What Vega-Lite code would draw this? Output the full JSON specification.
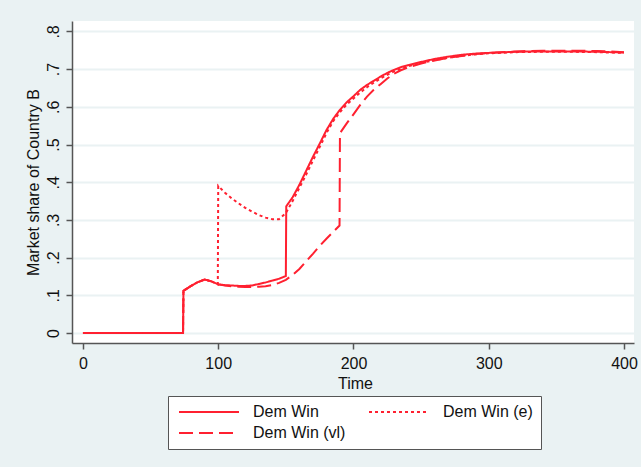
{
  "$schema": "https://vega.github.io/schema/vega-lite/v6.json",
  "width": 562,
  "height": 322,
  "autosize": {"type": "none"},
  "padding": {"left": 72, "top": 21, "right": 7, "bottom": 124},
  "background": "#EAF2F3",
  "config": {"font": "Liberation Sans", "view": {"fill": "white", "stroke": null}},
  "data": {"values": [
    {"t":0,"v":0,"s":"Dem Win"},{"t":74,"v":0,"s":"Dem Win"},{"t":74.3,"v":0.112,"s":"Dem Win"},{"t":80,"v":0.125,"s":"Dem Win"},{"t":85,"v":0.135,"s":"Dem Win"},{"t":90,"v":0.142,"s":"Dem Win"},{"t":95,"v":0.137,"s":"Dem Win"},{"t":100,"v":0.129,"s":"Dem Win"},{"t":105,"v":0.127,"s":"Dem Win"},{"t":110,"v":0.126,"s":"Dem Win"},{"t":115,"v":0.125,"s":"Dem Win"},{"t":120,"v":0.125,"s":"Dem Win"},{"t":125,"v":0.126,"s":"Dem Win"},{"t":130,"v":0.13,"s":"Dem Win"},{"t":135,"v":0.134,"s":"Dem Win"},{"t":140,"v":0.139,"s":"Dem Win"},{"t":145,"v":0.144,"s":"Dem Win"},{"t":150,"v":0.151,"s":"Dem Win"},{"t":150.3,"v":0.336,"s":"Dem Win"},{"t":155,"v":0.36,"s":"Dem Win"},{"t":160,"v":0.393,"s":"Dem Win"},{"t":165,"v":0.43,"s":"Dem Win"},{"t":170,"v":0.467,"s":"Dem Win"},{"t":175,"v":0.502,"s":"Dem Win"},{"t":180,"v":0.538,"s":"Dem Win"},{"t":185,"v":0.568,"s":"Dem Win"},{"t":190,"v":0.592,"s":"Dem Win"},{"t":195,"v":0.612,"s":"Dem Win"},{"t":200,"v":0.628,"s":"Dem Win"},{"t":205,"v":0.645,"s":"Dem Win"},{"t":210,"v":0.658,"s":"Dem Win"},{"t":215,"v":0.669,"s":"Dem Win"},{"t":220,"v":0.68,"s":"Dem Win"},{"t":225,"v":0.69,"s":"Dem Win"},{"t":230,"v":0.698,"s":"Dem Win"},{"t":235,"v":0.705,"s":"Dem Win"},{"t":240,"v":0.71,"s":"Dem Win"},{"t":250,"v":0.719,"s":"Dem Win"},{"t":260,"v":0.727,"s":"Dem Win"},{"t":270,"v":0.733,"s":"Dem Win"},{"t":280,"v":0.738,"s":"Dem Win"},{"t":290,"v":0.741,"s":"Dem Win"},{"t":300,"v":0.743,"s":"Dem Win"},{"t":320,"v":0.746,"s":"Dem Win"},{"t":340,"v":0.747,"s":"Dem Win"},{"t":360,"v":0.747,"s":"Dem Win"},{"t":380,"v":0.746,"s":"Dem Win"},{"t":400,"v":0.744,"s":"Dem Win"},
    {"t":0,"v":0,"s":"Dem Win (e)"},{"t":74,"v":0,"s":"Dem Win (e)"},{"t":74.3,"v":0.112,"s":"Dem Win (e)"},{"t":80,"v":0.125,"s":"Dem Win (e)"},{"t":85,"v":0.135,"s":"Dem Win (e)"},{"t":90,"v":0.142,"s":"Dem Win (e)"},{"t":95,"v":0.137,"s":"Dem Win (e)"},{"t":99.7,"v":0.129,"s":"Dem Win (e)"},{"t":100,"v":0.39,"s":"Dem Win (e)"},{"t":105,"v":0.372,"s":"Dem Win (e)"},{"t":110,"v":0.357,"s":"Dem Win (e)"},{"t":115,"v":0.344,"s":"Dem Win (e)"},{"t":120,"v":0.332,"s":"Dem Win (e)"},{"t":125,"v":0.322,"s":"Dem Win (e)"},{"t":130,"v":0.313,"s":"Dem Win (e)"},{"t":135,"v":0.306,"s":"Dem Win (e)"},{"t":140,"v":0.302,"s":"Dem Win (e)"},{"t":145,"v":0.302,"s":"Dem Win (e)"},{"t":150,"v":0.318,"s":"Dem Win (e)"},{"t":155,"v":0.35,"s":"Dem Win (e)"},{"t":160,"v":0.385,"s":"Dem Win (e)"},{"t":165,"v":0.42,"s":"Dem Win (e)"},{"t":170,"v":0.457,"s":"Dem Win (e)"},{"t":175,"v":0.493,"s":"Dem Win (e)"},{"t":180,"v":0.53,"s":"Dem Win (e)"},{"t":185,"v":0.562,"s":"Dem Win (e)"},{"t":190,"v":0.586,"s":"Dem Win (e)"},{"t":195,"v":0.606,"s":"Dem Win (e)"},{"t":200,"v":0.622,"s":"Dem Win (e)"},{"t":205,"v":0.638,"s":"Dem Win (e)"},{"t":210,"v":0.652,"s":"Dem Win (e)"},{"t":215,"v":0.664,"s":"Dem Win (e)"},{"t":220,"v":0.675,"s":"Dem Win (e)"},{"t":225,"v":0.685,"s":"Dem Win (e)"},{"t":230,"v":0.694,"s":"Dem Win (e)"},{"t":235,"v":0.701,"s":"Dem Win (e)"},{"t":240,"v":0.707,"s":"Dem Win (e)"},{"t":250,"v":0.716,"s":"Dem Win (e)"},{"t":260,"v":0.724,"s":"Dem Win (e)"},{"t":270,"v":0.73,"s":"Dem Win (e)"},{"t":280,"v":0.735,"s":"Dem Win (e)"},{"t":290,"v":0.739,"s":"Dem Win (e)"},{"t":300,"v":0.742,"s":"Dem Win (e)"},{"t":320,"v":0.745,"s":"Dem Win (e)"},{"t":340,"v":0.746,"s":"Dem Win (e)"},{"t":360,"v":0.746,"s":"Dem Win (e)"},{"t":380,"v":0.745,"s":"Dem Win (e)"},{"t":400,"v":0.743,"s":"Dem Win (e)"},
    {"t":0,"v":0,"s":"Dem Win (vl)"},{"t":74,"v":0,"s":"Dem Win (vl)"},{"t":74.3,"v":0.112,"s":"Dem Win (vl)"},{"t":80,"v":0.125,"s":"Dem Win (vl)"},{"t":85,"v":0.135,"s":"Dem Win (vl)"},{"t":90,"v":0.142,"s":"Dem Win (vl)"},{"t":95,"v":0.137,"s":"Dem Win (vl)"},{"t":100,"v":0.129,"s":"Dem Win (vl)"},{"t":105,"v":0.126,"s":"Dem Win (vl)"},{"t":110,"v":0.124,"s":"Dem Win (vl)"},{"t":115,"v":0.123,"s":"Dem Win (vl)"},{"t":120,"v":0.122,"s":"Dem Win (vl)"},{"t":125,"v":0.122,"s":"Dem Win (vl)"},{"t":130,"v":0.123,"s":"Dem Win (vl)"},{"t":135,"v":0.124,"s":"Dem Win (vl)"},{"t":140,"v":0.127,"s":"Dem Win (vl)"},{"t":145,"v":0.133,"s":"Dem Win (vl)"},{"t":150,"v":0.141,"s":"Dem Win (vl)"},{"t":155,"v":0.154,"s":"Dem Win (vl)"},{"t":160,"v":0.17,"s":"Dem Win (vl)"},{"t":165,"v":0.19,"s":"Dem Win (vl)"},{"t":170,"v":0.21,"s":"Dem Win (vl)"},{"t":175,"v":0.231,"s":"Dem Win (vl)"},{"t":180,"v":0.25,"s":"Dem Win (vl)"},{"t":185,"v":0.268,"s":"Dem Win (vl)"},{"t":189.7,"v":0.285,"s":"Dem Win (vl)"},{"t":190,"v":0.53,"s":"Dem Win (vl)"},{"t":195,"v":0.556,"s":"Dem Win (vl)"},{"t":200,"v":0.58,"s":"Dem Win (vl)"},{"t":205,"v":0.605,"s":"Dem Win (vl)"},{"t":210,"v":0.627,"s":"Dem Win (vl)"},{"t":215,"v":0.645,"s":"Dem Win (vl)"},{"t":220,"v":0.66,"s":"Dem Win (vl)"},{"t":225,"v":0.675,"s":"Dem Win (vl)"},{"t":230,"v":0.688,"s":"Dem Win (vl)"},{"t":235,"v":0.697,"s":"Dem Win (vl)"},{"t":240,"v":0.704,"s":"Dem Win (vl)"},{"t":250,"v":0.715,"s":"Dem Win (vl)"},{"t":260,"v":0.723,"s":"Dem Win (vl)"},{"t":270,"v":0.73,"s":"Dem Win (vl)"},{"t":280,"v":0.735,"s":"Dem Win (vl)"},{"t":290,"v":0.74,"s":"Dem Win (vl)"},{"t":300,"v":0.743,"s":"Dem Win (vl)"},{"t":320,"v":0.747,"s":"Dem Win (vl)"},{"t":340,"v":0.749,"s":"Dem Win (vl)"},{"t":360,"v":0.749,"s":"Dem Win (vl)"},{"t":380,"v":0.748,"s":"Dem Win (vl)"},{"t":400,"v":0.745,"s":"Dem Win (vl)"}
  ]},
  "mark": {"type": "line", "color": "#FF2030", "strokeWidth": 2},
  "encoding": {
    "x": {
      "field": "t", "type": "quantitative",
      "scale": {"domain": [-8.1, 407.4], "nice": false, "zero": false},
      "axis": {
        "values": [0, 100, 200, 300, 400], "title": "Time", "grid": false,
        "domainColor": "#555555", "domainWidth": 1.5, "tickColor": "#555555", "tickWidth": 1.5, "tickSize": 6,
        "labelFontSize": 16, "labelColor": "#111111", "labelPadding": 6, "labelFlush": false, "labelOverlap": false,
        "titleFontSize": 16, "titleFontWeight": "normal", "titleColor": "#111111",
        "titleX": 283, "titleY": 45, "titleBaseline": "alphabetic", "titleAlign": "center"
      }
    },
    "y": {
      "field": "v", "type": "quantitative",
      "scale": {"domain": [-0.0265, 0.8276], "nice": false, "zero": false},
      "axis": {
        "values": [0, 0.1, 0.2, 0.3, 0.4, 0.5, 0.6, 0.7, 0.8],
        "labelExpr": "datum.value == 0 ? '0' : replace(format(datum.value, '.1f'), '0.', '.')",
        "title": "Market share of Country B", "grid": true, "gridColor": "#EAF2F3", "gridWidth": 2,
        "domainColor": "#555555", "domainWidth": 1.5, "tickColor": "#555555", "tickWidth": 1.5, "tickSize": 6,
        "labelAngle": 270, "labelAlign": "center", "labelBaseline": "alphabetic", "labelPadding": 8,
        "labelFontSize": 16, "labelColor": "#111111", "labelOverlap": false, "labelFlush": false,
        "titleFontSize": 16, "titleFontWeight": "normal", "titleColor": "#111111",
        "titleX": -34, "titleY": 161, "titleAngle": 270, "titleAlign": "center", "titleBaseline": "alphabetic"
      }
    },
    "strokeDash": {
      "field": "s", "type": "nominal",
      "scale": {"domain": ["Dem Win", "Dem Win (e)", "Dem Win (vl)"], "range": [[1, 0], [3, 3], [14, 6]]},
      "legend": {
        "orient": "none", "legendX": 96, "legendY": 375, "title": null, "columns": 2, "direction": "horizontal",
        "symbolType": "M-1,0H11", "symbolSize": 100, "symbolStrokeWidth": 2, "symbolStrokeColor": "#FF2030",
        "labelFontSize": 16, "labelColor": "#111111", "labelOffset": 61, "labelLimit": 200,
        "columnPadding": 19, "rowPadding": 5, "padding": 8,
        "strokeColor": "#555555", "fillColor": "white"
      }
    }
  }
}
